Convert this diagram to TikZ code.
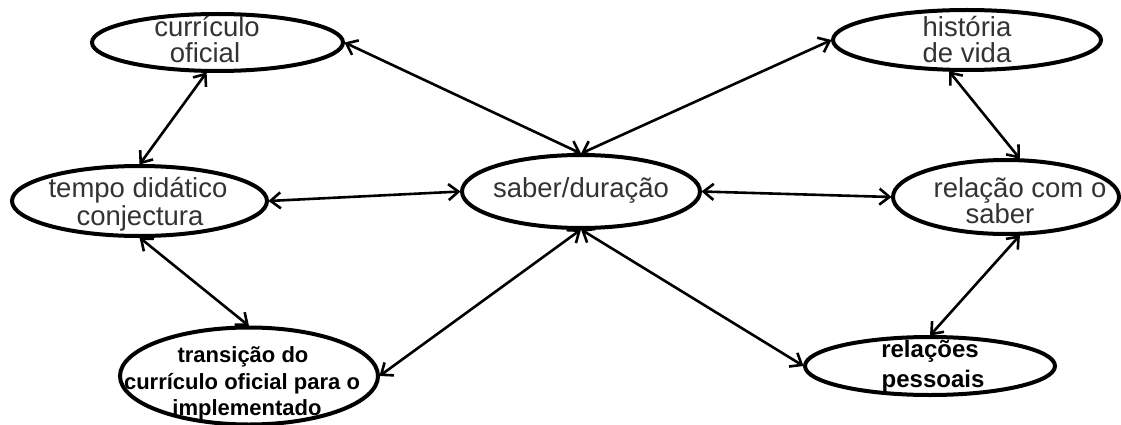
\documentclass[tikz,border=0pt]{standalone}
\usepackage{fontspec}
\setmainfont{Liberation Sans}
\usetikzlibrary{shapes.geometric,arrows.meta}
\definecolor{ink}{HTML}{333333}
\begin{document}
\begin{tikzpicture}[x=1pt,y=-1pt,
  oval/.style={ellipse,draw=black,line width=4pt,inner sep=0pt,outer sep=1.5pt},
  lbl/.style={anchor=base,text=ink,inner sep=0pt,font=\fontsize{27.5}{29}\selectfont},
  blbl/.style={anchor=base,text=black,inner sep=0pt,font=\fontsize{22}{27}\selectfont\bfseries},
  barb/.tip={Straight Barb[length=10pt,width=16pt]},
  link/.style={line width=2.6pt,barb-barb}]
\useasboundingbox (0,0) rectangle (1121,425);

% ovals
\node[oval,minimum width=251pt,minimum height=57pt] (cur) at (217.5,42.5) {};
\node[oval,minimum width=255pt,minimum height=70pt] (tem) at (139.5,201) {};
\node[oval,minimum width=258pt,minimum height=97pt] (tra) at (249,376) {};
\node[oval,minimum width=238pt,minimum height=73pt] (sab) at (581,191.5) {};
\node[oval,minimum width=268pt,minimum height=60pt] (his) at (967,40) {};
\node[oval,minimum width=226pt,minimum height=74pt] (rsa) at (1006,197) {};
\node[oval,minimum width=250pt,minimum height=58pt] (rel) at (930,366) {};

% labels, one node per line, placed on their baselines
\node[lbl] (cur1) at (207,37) {currículo};
\node[lbl] (cur2) at (205,63) {oficial};
\node[lbl] (tem1) at (138,197) {tempo didático};
\node[lbl] (tem2) at (140,225) {conjectura};
\node[blbl] (tra1) at (243,362) {transição do};
\node[blbl] (tra2) at (242,389) {currículo oficial para o};
\node[blbl] (tra3) at (247,415) {implementado};
\node[lbl] (sab1) at (581,197) {saber/duração};
\node[lbl] (his1) at (967,37) {história};
\node[lbl] (his2) at (967,63) {de vida};
\node[lbl] (rsa1) at (1020,197) {relação com o};
\node[lbl] (rsa2) at (1000,223) {saber};
\node[blbl,font=\fontsize{24}{30}\selectfont\bfseries] (rel1) at (930,357) {relações};
\node[blbl,font=\fontsize{24}{30}\selectfont\bfseries] (rel2) at (933,387) {pessoais};

% connectors
\draw[link] (cur.east) -- (sab.north);
\draw[link] (cur.-110) -- (tem.north);
\draw[link] (tem.east) -- (sab.west);
\draw[link] (tem.south) -- (tra.north);
\draw[link] (tra.east) -- (sab.south);
\draw[link] (sab.south) -- (rel.west);
\draw[link] (sab.north) -- (his.west);
\draw[link] (sab.east) -- (rsa.west);
\draw[link] (his.-120) -- (rsa.70);
\draw[link] (rsa.-70) -- (rel.north);
\end{tikzpicture}
\end{document}
